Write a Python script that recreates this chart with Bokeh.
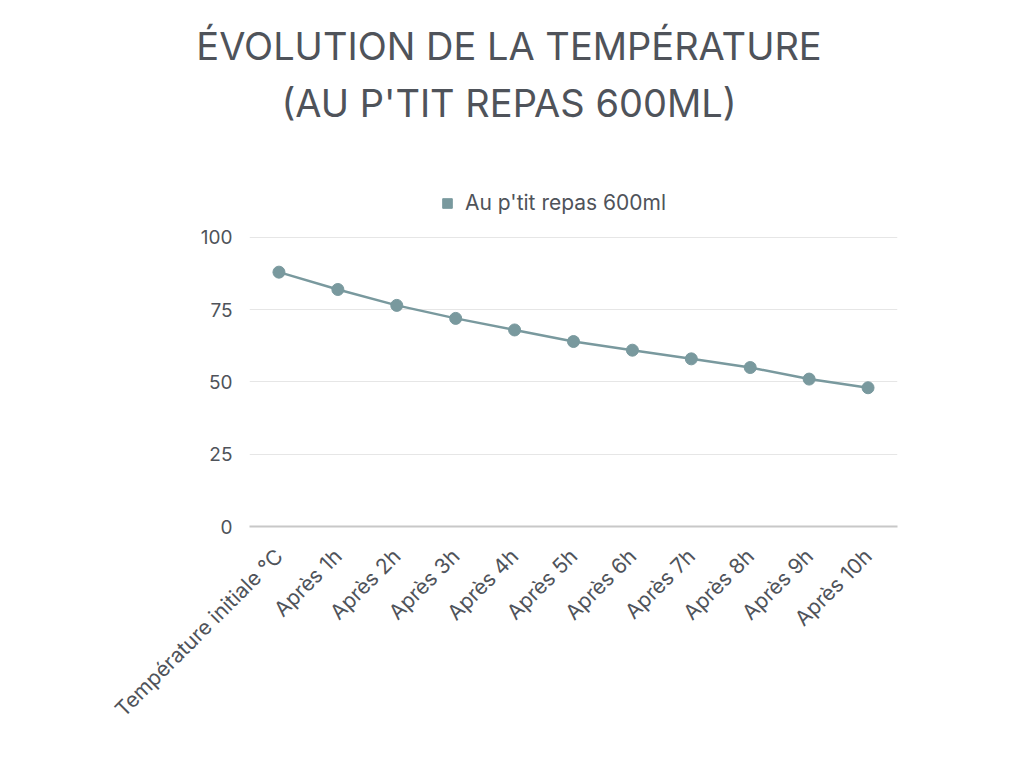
from math import pi
from bokeh.plotting import figure
from bokeh.layouts import column
from bokeh.models import (ColumnDataSource, Range1d, FixedTicker, Legend, LegendItem, Div)
from bokeh.embed import file_html
from bokeh.resources import INLINE

categories = ["Température initiale °C", "Après 1h", "Après 2h", "Après 3h", "Après 4h",
              "Après 5h", "Après 6h", "Après 7h", "Après 8h", "Après 9h", "Après 10h"]
temperatures = [88, 82, 76.5, 72, 68, 64, 61, 58, 55, 51, 48]
y_ticks = [0, 25, 50, 75, 100]
series_name = "Au p'tit repas 600ml"
title_lines = ["ÉVOLUTION DE LA TEMPÉRATURE", "(AU P'TIT REPAS 600ML)"]

FONT = "Inter"
TXT = "#4f535a"
SERIES = "#79999e"

title_div = Div(
    text=("<div style=\"width:994px;padding-left:14px;text-align:center;font-family:'Inter';"
          "font-size:38px;line-height:57px;color:%s;padding-top:13px;white-space:nowrap\">"
          "%s<br>%s</div>" % (TXT, title_lines[0], title_lines[1])),
    width=1008, height=168)

src = ColumnDataSource(dict(cat=categories, temp=temperatures))

# frame spans from the legend zone down to 0; only 0..100 is ticked
p = figure(x_range=categories, y_range=Range1d(0, 120.4),
           frame_width=648, frame_height=348,
           output_backend="svg", toolbar_location=None,
           min_border_left=249, min_border_right=111, min_border_bottom=228,
           min_border_top=0)
p.outline_line_color = None
p.background_fill_color = "white"
p.border_fill_color = "white"

# legend key renderer (square, hidden under the round markers)
sq = p.scatter("cat", "temp", source=src, marker="square", size=7,
               fill_color=SERIES, line_color=SERIES)
p.line("cat", "temp", source=src, line_color=SERIES, line_width=2.5)
p.scatter("cat", "temp", source=src, size=12, fill_color=SERIES, line_color=SERIES)

p.xgrid.grid_line_color = None
p.ygrid.grid_line_color = "#e6e6e6"
p.ygrid.grid_line_width = 1

p.yaxis.ticker = FixedTicker(ticks=y_ticks)
p.yaxis.axis_line_color = None
p.yaxis.major_tick_line_color = None
p.yaxis.minor_tick_line_color = None
p.yaxis.major_tick_out = 0
p.yaxis.major_tick_in = 0
p.yaxis.major_label_standoff = 17
p.yaxis.major_label_text_font = FONT
p.yaxis.major_label_text_font_size = "19px"
p.yaxis.major_label_text_color = TXT

p.xaxis.axis_line_color = "#c8c8c8"
p.xaxis.axis_line_width = 2
p.xaxis.major_tick_line_color = None
p.xaxis.major_tick_out = 0
p.xaxis.major_tick_in = 0
p.xaxis.major_label_standoff = 26
p.xaxis.major_label_orientation = pi / 4
p.xaxis.major_label_text_font = FONT
p.xaxis.major_label_text_font_size = "21px"
p.xaxis.major_label_text_color = TXT

legend = Legend(items=[LegendItem(label=series_name, renderers=[sq])],
                orientation="horizontal", location=(186, 311),
                border_line_color=None, background_fill_color=None,
                label_text_font=FONT, label_text_font_size="21px",
                label_text_color=TXT, glyph_width=24, glyph_height=24,
                label_standoff=6, margin=0, padding=4)
p.add_layout(legend, "center")
p.title.visible = False

layout = column(title_div, p, spacing=0)
open("out.html", "w").write(file_html(layout, INLINE))
